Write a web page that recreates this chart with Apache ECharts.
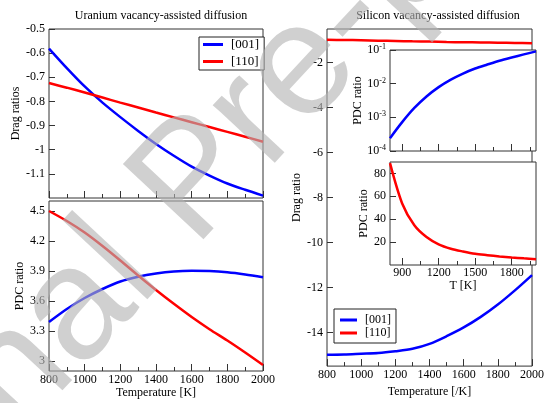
<!DOCTYPE html>
<html><head><meta charset="utf-8">
<script src="https://cdn.jsdelivr.net/npm/echarts@6/dist/echarts.min.js"></script>
<style>html,body{margin:0;padding:0;background:#fff}#c{width:547px;height:403px}</style>
</head><body><div id="c"></div>
<script>
// ---- data ----
const temps = [800, 900, 1000, 1100, 1200, 1300, 1400, 1500, 1600, 1700, 1800, 1900, 2000];
const uDrag001 = [-0.581, -0.662, -0.738, -0.805, -0.865, -0.922, -0.976, -1.025, -1.07, -1.107, -1.14, -1.166, -1.19];
const uDrag110 = [-0.724, -0.743, -0.763, -0.784, -0.805, -0.825, -0.846, -0.866, -0.886, -0.906, -0.926, -0.946, -0.967];
const uPdc001 = [3.39, 3.52, 3.63, 3.72, 3.795, 3.843, 3.875, 3.895, 3.902, 3.90, 3.888, 3.866, 3.838];
const uPdc110 = [4.50, 4.40, 4.285, 4.15, 4.005, 3.855, 3.71, 3.572, 3.44, 3.318, 3.205, 3.085, 2.96];
const siDrag001 = [-14.99, -14.98, -14.95, -14.92, -14.84, -14.73, -14.51, -14.17, -13.78, -13.31, -12.76, -12.13, -11.45];
const siDrag110 = [-0.98, -0.99, -1.0, -1.02, -1.03, -1.05, -1.06, -1.08, -1.09, -1.10, -1.11, -1.12, -1.13];
const siPdc001 = [2.4e-4, 7.2e-4, 1.9e-3, 4.17e-3, 7.9e-3, 1.32e-2, 2.0e-2, 2.82e-2, 3.7e-2, 4.8e-2, 6.0e-2, 7.4e-2, 9.1e-2];
const siPdc110 = [89, 53.8, 34.7, 24.4, 18.0, 14.2, 11.8, 9.8, 8.6, 7.5, 6.6, 5.8, 5.1];

const uDragTicks = [-1.1, -1, -0.9, -0.8, -0.7, -0.6, -0.5];
const uPdcTicks = [3, 3.3, 3.6, 3.9, 4.2, 4.5];
const siDragTicks = [-14, -12, -10, -8, -6, -4, -2];
const insetLinTicks = [20, 40, 60, 80];
const insetXMajor = [900, 1200, 1500, 1800];
const insetXMinor = [1050, 1350, 1650, 1950];
const seriesNames = ['[001]', '[110]'];
const titles = ['Uranium vacancy-assisted diffusion', 'Silicon vacancy-assisted diffusion'];
const watermark = 'Journal Pre-proof';

// ---- styling ----
const FONT = 'Liberation Serif';
const AX = '#333';
const BLUE = '#0000ff', RED = '#ff0000';
const pairs = arr => temps.map((t, i) => [t, arr[i]]);
const fmt = v => String(+(+v).toFixed(3));
const txt = { fontFamily: FONT, fontSize: 12, color: '#000' };

function mainX(grid, showLabel, name) {
  return {
    type: 'value', gridIndex: grid, min: 800, max: 2000, interval: 200,
    axisLine: { show: false },
    axisTick: { show: true, inside: true, length: 7, lineStyle: { color: AX } },
    minorTick: { show: true, splitNumber: 2, length: 4, lineStyle: { color: AX } },
    splitLine: { show: false },
    axisLabel: { show: showLabel, margin: 3, ...txt, formatter: fmt },
    name: name || '', nameLocation: 'middle', nameGap: 16, nameTextStyle: { ...txt }
  };
}
function customY(grid, min, max, ticks, name, gap) {
  return {
    type: 'value', gridIndex: grid, min: min, max: max,
    axisLine: { show: false },
    axisTick: { show: true, inside: true, length: 6, customValues: ticks, lineStyle: { color: AX } },
    splitLine: { show: false },
    axisLabel: { show: true, margin: 4, customValues: ticks, ...txt, formatter: fmt },
    name: name, nameLocation: 'middle', nameGap: gap, nameRotate: 90, nameTextStyle: { ...txt }
  };
}
function insetX(grid, ticks, len, showLabel, name) {
  return {
    type: 'value', gridIndex: grid, min: 800, max: 2000, position: 'bottom',
    axisLine: { show: false },
    axisTick: { show: true, inside: true, length: len, customValues: ticks, lineStyle: { color: AX } },
    splitLine: { show: false },
    axisLabel: { show: showLabel, margin: 2, customValues: ticks, ...txt, formatter: fmt },
    name: name || '', nameLocation: 'middle', nameGap: 14, nameTextStyle: { ...txt }
  };
}
const gridStyle = { show: true, borderColor: AX, borderWidth: 1, backgroundColor: '#fff', containLabel: false };
function line(name, data, color, xi, yi) {
  return {
    type: 'line', name: name, data: pairs(data), xAxisIndex: xi, yAxisIndex: yi,
    showSymbol: false, smooth: 0.3, color: color,
    lineStyle: { color: color, width: 2.5 }, z: 3
  };
}
function legend(left, top, fs, pad, gap, iw) {
  return {
    data: seriesNames, orient: 'vertical', left: left, top: top,
    padding: pad, itemGap: gap, itemWidth: iw, itemHeight: 3, icon: 'rect',
    borderColor: '#222', borderWidth: 1, backgroundColor: '#fff',
    textStyle: { fontFamily: FONT, fontSize: fs, lineHeight: fs, color: '#000', padding: [0, 0, 0, 3] }
  };
}

const option = {
  animation: false,
  backgroundColor: '#fff',
  title: [
    { text: titles[0], left: 156, top: 5, textAlign: 'center', textStyle: { ...txt, fontWeight: 'normal' } },
    { text: titles[1], left: 433, top: 5, textAlign: 'center', textStyle: { ...txt, fontWeight: 'normal' } }
  ],
  legend: [legend(199, 37, 13, [1, 5, 2, 4], 4, 20), legend(334, 309, 12, [5, 5, 4, 6], 1, 17)],
  grid: [
    Object.assign({ left: 49, top: 29, width: 214, height: 169 }, gridStyle),
    Object.assign({ left: 49, top: 201, width: 214, height: 170 }, gridStyle),
    Object.assign({ left: 327, top: 29, width: 212, height: 342 }, gridStyle),
    Object.assign({ left: 390, top: 50, width: 146, height: 101 }, gridStyle),
    Object.assign({ left: 390, top: 162, width: 146, height: 103 }, gridStyle)
  ],
  xAxis: [
    mainX(0, false),
    mainX(1, true, 'Temperature [K]'),
    mainX(2, true, 'Temperature [/K]'),
    insetX(3, insetXMajor, 7, false),
    insetX(3, insetXMinor, 4, false),
    insetX(4, insetXMajor, 7, true, 'T [K]'),
    insetX(4, insetXMinor, 4, false)
  ],
  yAxis: [
    customY(0, -1.2, -0.5, uDragTicks, 'Drag ratios', 26),
    customY(1, 2.9, 4.6, uPdcTicks, 'PDC ratio', 19),
    customY(2, -15.5, -0.5, siDragTicks, 'Drag ratio', 24),
    {
      type: 'log', logBase: 10, gridIndex: 3, min: 1e-4, max: 1e-1,
      axisLine: { show: false },
      axisTick: { show: true, inside: true, length: 6, lineStyle: { color: AX } },
      minorTick: { show: false },
      splitLine: { show: false },
      axisLabel: {
        margin: 4, ...txt,
        formatter: v => '10{s|' + Math.round(Math.log10(v)) + '}',
        rich: { s: { fontFamily: FONT, fontSize: 8, verticalAlign: 'top', padding: [0, 0, 6, 0] } }
      },
      name: 'PDC ratio', nameLocation: 'middle', nameGap: 25, nameRotate: 90, nameTextStyle: { ...txt }
    },
    customY(4, 0, 90, insetLinTicks, 'PDC ratio', 17)
  ],
  series: [
    line(seriesNames[0], uDrag001, BLUE, 0, 0),
    line(seriesNames[1], uDrag110, RED, 0, 0),
    line(seriesNames[0], uPdc001, BLUE, 1, 1),
    line(seriesNames[1], uPdc110, RED, 1, 1),
    line(seriesNames[0], siDrag001, BLUE, 2, 2),
    line(seriesNames[1], siDrag110, RED, 2, 2),
    line(seriesNames[0], siPdc001, BLUE, 3, 3),
    line(seriesNames[1], siPdc110, RED, 5, 4)
  ],
  graphic: [{
    type: 'text', x: -226, y: 635, rotation: 47 * Math.PI / 180, z: 100, silent: true,
    style: { text: watermark, fontSize: 160, fontFamily: 'Liberation Sans',
      fill: 'rgba(179,179,179,0.62)', align: 'left', verticalAlign: 'middle' }
  }]
};
const chart = echarts.init(document.getElementById('c'), null, { renderer: 'canvas' });
chart.setOption(option);
</script></body></html>
